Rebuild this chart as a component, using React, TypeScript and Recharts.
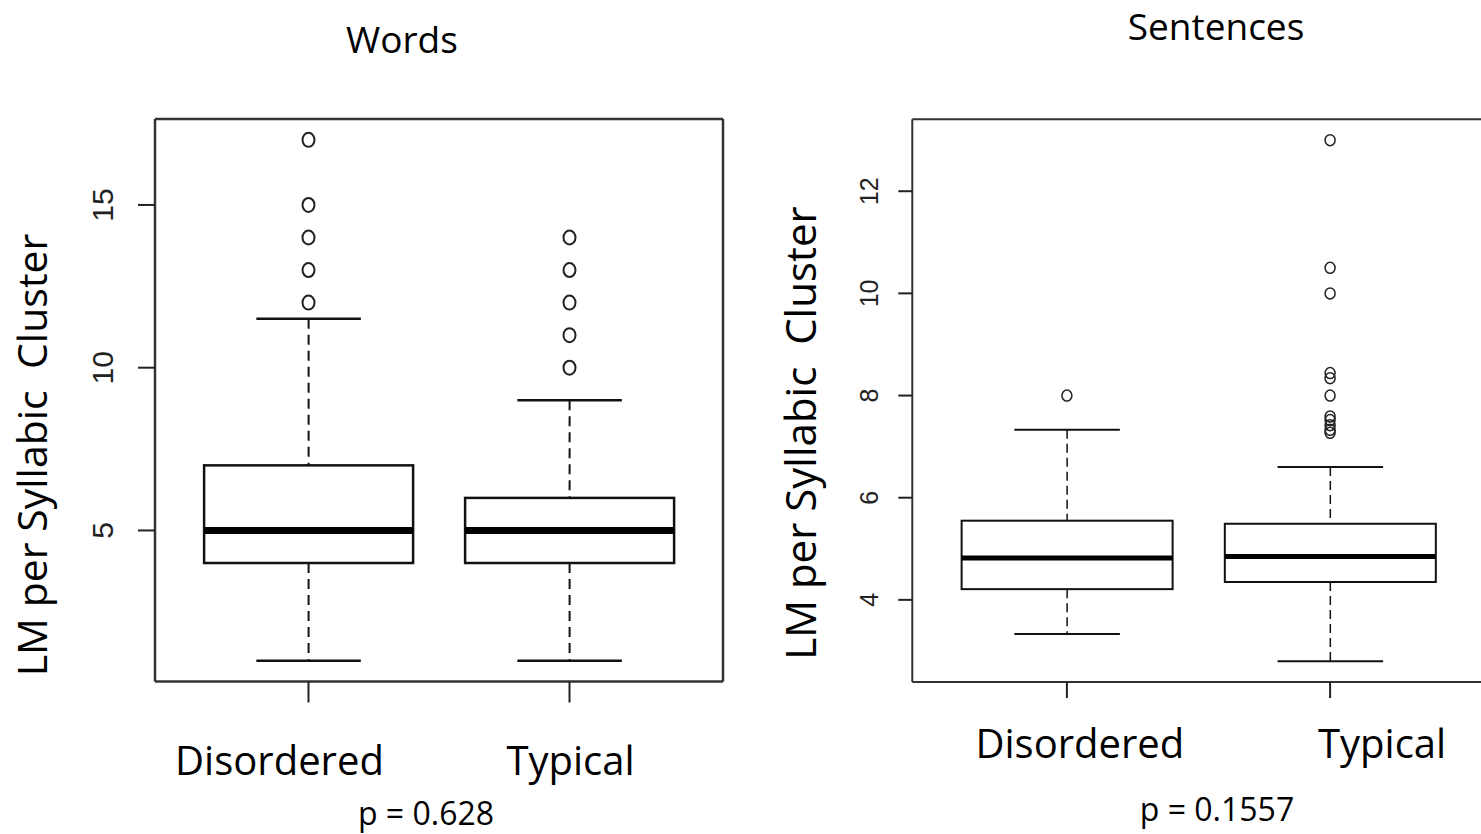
import React from 'react';
import { ComposedChart, Bar, Scatter, XAxis, YAxis } from 'recharts';

// categories
const groups = ['Disordered', 'Typical'];

// Words panel: five-number summaries + outliers
const wordsMin = [1, 1];
const wordsQ1 = [4, 4];
const wordsMedian = [5, 5];
const wordsQ3 = [7, 6];
const wordsMax = [11.5, 9];
const wordsOutDisordered = [12, 13, 14, 15, 17];
const wordsOutTypical = [10, 11, 12, 13, 14];
const wordsTicks = [5, 10, 15];

// Sentences panel
const sentMin = [3.33, 2.8];
const sentQ1 = [4.21, 4.35];
const sentMedian = [4.82, 4.85];
const sentQ3 = [5.55, 5.49];
const sentMax = [7.33, 6.6];
const sentOutDisordered = [8];
const sentOutTypical = [13, 10.5, 10.0, 8.44, 8.34, 8.0, 7.59, 7.52, 7.42, 7.33, 7.27];
const sentTicks = [4, 6, 8, 10, 12];

const FONT = '"Open Sans", sans-serif';
const R_FONT = '"Liberation Sans", Arial, sans-serif';

// R-style 4% axis extension
const extend = (lo: number, hi: number): [number, number] => {
  const d = (hi - lo) * 0.04;
  return [lo - d, hi + d];
};

const buildRows = (mins: number[], q1: number[], med: number[], q3: number[], maxs: number[]) =>
  groups.map((name, i) => ({ name, box: [q1[i], q3[i]], lo: mins[i], med: med[i], hi: maxs[i] }));

const buildOutliers = (a: number[], b: number[]) => [
  ...a.map((value) => ({ name: groups[0], value })),
  ...b.map((value) => ({ name: groups[1], value })),
];

interface BoxStyle {
  stroke: number;
  median: number;
  whisker: number;
  dash: string;
  cap: number;
}

// draws box, median, whiskers and caps; pixel positions derived from the bar's own scaled rect
const makeBoxShape = (s: BoxStyle) => (props: any) => {
  const { x, y, width, height, payload } = props;
  const top = Math.min(y, y + height);
  const h = Math.abs(height);
  const [q1, q3] = payload.box;
  const ppu = h / (q3 - q1);
  const py = (v: number) => top + (q3 - v) * ppu;
  const cx = x + width / 2;
  const half = width / 4;
  const col = '#111';
  return (
    <g>
      <line x1={cx} x2={cx} y1={py(payload.hi)} y2={top} stroke={col} strokeWidth={s.whisker} strokeDasharray={s.dash} />
      <line x1={cx} x2={cx} y1={top + h} y2={py(payload.lo)} stroke={col} strokeWidth={s.whisker} strokeDasharray={s.dash} />
      <line x1={cx - half} x2={cx + half} y1={py(payload.hi)} y2={py(payload.hi)} stroke={col} strokeWidth={s.cap} />
      <line x1={cx - half} x2={cx + half} y1={py(payload.lo)} y2={py(payload.lo)} stroke={col} strokeWidth={s.cap} />
      <rect x={x} y={top} width={width} height={h} fill="#fff" stroke={col} strokeWidth={s.stroke} />
      <line x1={x} x2={x + width} y1={py(payload.med)} y2={py(payload.med)} stroke="#000" strokeWidth={s.median} />
    </g>
  );
};

const makeYTick = (dx: number, size: number) => (props: any) => {
  const { x, y, payload } = props;
  const bx = x + dx;
  return (
    <text x={bx} y={y} transform={`rotate(-90 ${bx} ${y})`} textAnchor="middle" fontFamily={R_FONT} fontSize={size} fill="#222">
      {payload.value}
    </text>
  );
};

const makeXTick = (dx: Record<string, number>, dy: number) => (props: any) => {
  const { x, y, payload } = props;
  return (
    <text x={x + (dx[payload.value] || 0)} y={y + dy} textAnchor="middle" fontFamily={FONT} fontSize={40} fill="#000">
      {payload.value}
    </text>
  );
};

interface PanelProps {
  rows: any[];
  outliers: any[];
  domain: [number, number];
  ticks: number[];
  width: number;
  margin: { top: number; right: number; bottom: number; left: number };
  padding: number;
  yTickSize: number;
  xTickSize: number;
  yTickDx: number;
  yFont: number;
  xLabelDx: Record<string, number>;
  xLabelDy: number;
  box: BoxStyle;
  frame: number;
  rx: number;
  ry: number;
  dot: number;
}

// top axis is 1px tall and right axis 1px wide: they only draw the frame
const Panel: React.FC<PanelProps> = (p) => {
  const frameLine = { stroke: '#333', strokeWidth: p.frame };
  return (
    <ComposedChart width={p.width} height={834} data={p.rows} margin={p.margin} barCategoryGap="10%">
      <XAxis
        dataKey="name"
        type="category"
        allowDuplicatedCategory={false}
        padding={{ left: p.padding, right: p.padding }}
        height={100}
        tickSize={p.xTickSize}
        axisLine={frameLine}
        tickLine={{ stroke: '#222', strokeWidth: 2 }}
        tick={makeXTick(p.xLabelDx, p.xLabelDy)}
        interval={0}
      />
      <XAxis
        xAxisId="top"
        dataKey="name"
        type="category"
        allowDuplicatedCategory={false}
        orientation="top"
        height={1}
        tick={false}
        tickLine={false}
        axisLine={frameLine}
      />
      <YAxis
        type="number"
        domain={p.domain}
        ticks={p.ticks}
        width={60}
        tickSize={p.yTickSize}
        axisLine={frameLine}
        tickLine={{ stroke: '#222', strokeWidth: 2 }}
        tick={makeYTick(p.yTickDx, p.yFont)}
        interval={0}
      />
      <YAxis yAxisId="right" orientation="right" type="number" domain={p.domain} width={1} tick={false} tickLine={false} axisLine={frameLine} />
      <Bar dataKey="box" shape={makeBoxShape(p.box)} isAnimationActive={false} />
      <Scatter
        data={p.outliers}
        dataKey="value"
        isAnimationActive={false}
        shape={(sp: any) => <ellipse cx={sp.cx} cy={sp.cy} rx={p.rx} ry={p.ry} fill="none" stroke="#222" strokeWidth={p.dot} />}
      />
    </ComposedChart>
  );
};

export default function App() {
  const wordsRows = buildRows(wordsMin, wordsQ1, wordsMedian, wordsQ3, wordsMax);
  const sentRows = buildRows(sentMin, sentQ1, sentMedian, sentQ3, sentMax);
  const wordsOut = buildOutliers(wordsOutDisordered, wordsOutTypical);
  const sentOut = buildOutliers(sentOutDisordered, sentOutTypical);
  const wordsDomain = extend(Math.min(...wordsMin), Math.max(...wordsOutDisordered, ...wordsOutTypical));
  const sentDomain = extend(Math.min(...sentMin), Math.max(...sentOutDisordered, ...sentOutTypical));

  return (
    <div style={{ position: 'absolute', left: 0, top: 0, width: 1481, height: 834, overflow: 'hidden', background: '#fff' }}>
      <div style={{ position: 'absolute', left: 0, top: 0 }}>
        <Panel
          rows={wordsRows}
          outliers={wordsOut}
          domain={wordsDomain}
          ticks={wordsTicks}
          width={800}
          margin={{ top: 118, right: 76, bottom: 52.5, left: 95 }}
          padding={23}
          yTickSize={17}
          xTickSize={21}
          yTickDx={-23}
          yFont={30}
          xLabelDx={{ Disordered: -29, Typical: 1 }}
          xLabelDy={70}
          box={{ stroke: 2.5, median: 7, whisker: 2, dash: '10 6', cap: 2.5 }}
          frame={2.5}
          rx={6}
          ry={7}
          dot={2}
        />
      </div>
      <div style={{ position: 'absolute', left: 700, top: 0 }}>
        <Panel
          rows={sentRows}
          outliers={sentOut}
          domain={sentDomain}
          ticks={sentTicks}
          width={900}
          margin={{ top: 118.3, right: 114.3, bottom: 52, left: 152.3 }}
          padding={23}
          yTickSize={14}
          xTickSize={16}
          yTickDx={-18}
          yFont={25}
          xLabelDx={{ Disordered: 13, Typical: 52 }}
          xLabelDy={58}
          box={{ stroke: 2, median: 5, whisker: 1.5, dash: '9 5', cap: 2 }}
          frame={2}
          rx={5}
          ry={5.5}
          dot={1.5}
        />
      </div>
      <svg width={1481} height={834} style={{ position: 'absolute', left: 0, top: 0, pointerEvents: 'none' }}>
        <g fontFamily={FONT} fill="#000">
          <text x={402} y={53} fontSize={37} textAnchor="middle">Words</text>
          <text x={1216} y={40} fontSize={37} textAnchor="middle">Sentences</text>
          <text x={426} y={825} fontSize={32} textAnchor="middle">p = 0.628</text>
          <text x={1217} y={821} fontSize={32} textAnchor="middle">p = 0.1557</text>
          <text x={47} y={455} fontSize={41} textAnchor="middle" transform="rotate(-90 47 455)" style={{ whiteSpace: 'pre' }}>
            LM per Syllabic  Cluster
          </text>
          <text x={816} y={433} fontSize={42} textAnchor="middle" transform="rotate(-90 816 433)" style={{ whiteSpace: 'pre' }}>
            LM per Syllabic  Cluster
          </text>
        </g>
      </svg>
    </div>
  );
}
